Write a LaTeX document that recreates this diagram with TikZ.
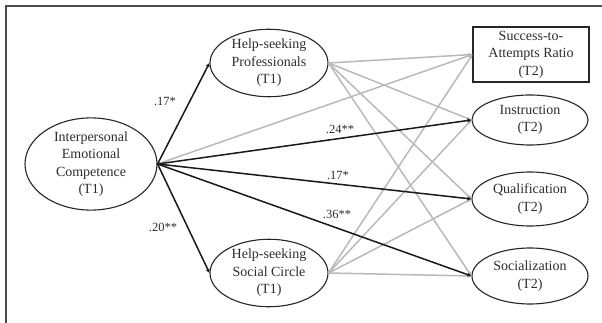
\documentclass[tikz,border=0pt]{standalone}
\usepackage{fontspec}
\setmainfont{Liberation Serif}
\usetikzlibrary{arrows.meta,shapes.geometric}
\definecolor{lightline}{RGB}{185,185,185}
\definecolor{txt}{RGB}{45,45,45}
\begin{document}
\begin{tikzpicture}[x=1pt,y=-1pt,
  every node/.style={font=\fontsize{14}{17.5}\selectfont, text=txt},
  var/.style={draw=black!85, line width=1.1pt, ellipse, inner sep=0pt, align=center},
  obs/.style={draw=black!85, line width=1.1pt, rectangle, inner sep=0pt, align=center},
  path1/.style={draw=black!90, line width=1.5pt, -{Triangle[length=4pt,width=3.5pt]}},
  path2/.style={draw=lightline, line width=1.5pt, -{Triangle[length=4pt,width=3.5pt]}},
  coef/.style={font=\fontsize{12.5}{14}\selectfont}]
\useasboundingbox (0,0) rectangle (602,323);
\draw[black!70, line width=1.6pt] (602,6) -- (6,6) -- (6,323);
% nodes
\node[var, minimum width=132pt, minimum height=74pt] (iec) at (91,164) {Interpersonal\\Emotional\\Competence\\(T1)};
\node[var, minimum width=118pt, minimum height=58pt] (pro) at (269,63) {Help-seeking\\Professionals\\(T1)};
\node[var, minimum width=118pt, minimum height=66pt] (soc) at (269,273) {Help-seeking\\Social Circle\\(T1)};
\node[obs, minimum width=116pt, minimum height=55pt] (sar) at (531,54.5) {Success-to-\\Attempts Ratio\\(T2)};
\node[var, minimum width=116pt, minimum height=50pt] (ins) at (530,120) {Instruction\\(T2)};
\node[var, minimum width=116pt, minimum height=54pt] (qua) at (530,199) {Qualification\\(T2)};
\node[var, minimum width=116pt, minimum height=56pt] (sol) at (530,276) {Socialization\\(T2)};
% gray paths
\foreach \s in {pro,soc}{
  \foreach \t in {sar,ins,qua,sol}{
    \draw[path2] (\s.east) -- (\t.west);
  }
}
\draw[path2] (iec.east) -- (sar.west);
% black paths
\draw[path1] (iec.east) -- (pro.west);
\draw[path1] (iec.east) -- (soc.west);
\draw[path1] (iec.east) -- (ins.west);
\draw[path1] (iec.east) -- (qua.west);
\draw[path1] (iec.east) -- (sol.west);
% coefficients
\node[coef] (c1) at (165,101) {.17*};
\node[coef] (c2) at (163,227) {.20**};
\node[coef] (c3) at (340,129) {.24**};
\node[coef] (c4) at (338,175) {.17*};
\node[coef] (c5) at (337,214) {.36**};
\end{tikzpicture}
\end{document}
